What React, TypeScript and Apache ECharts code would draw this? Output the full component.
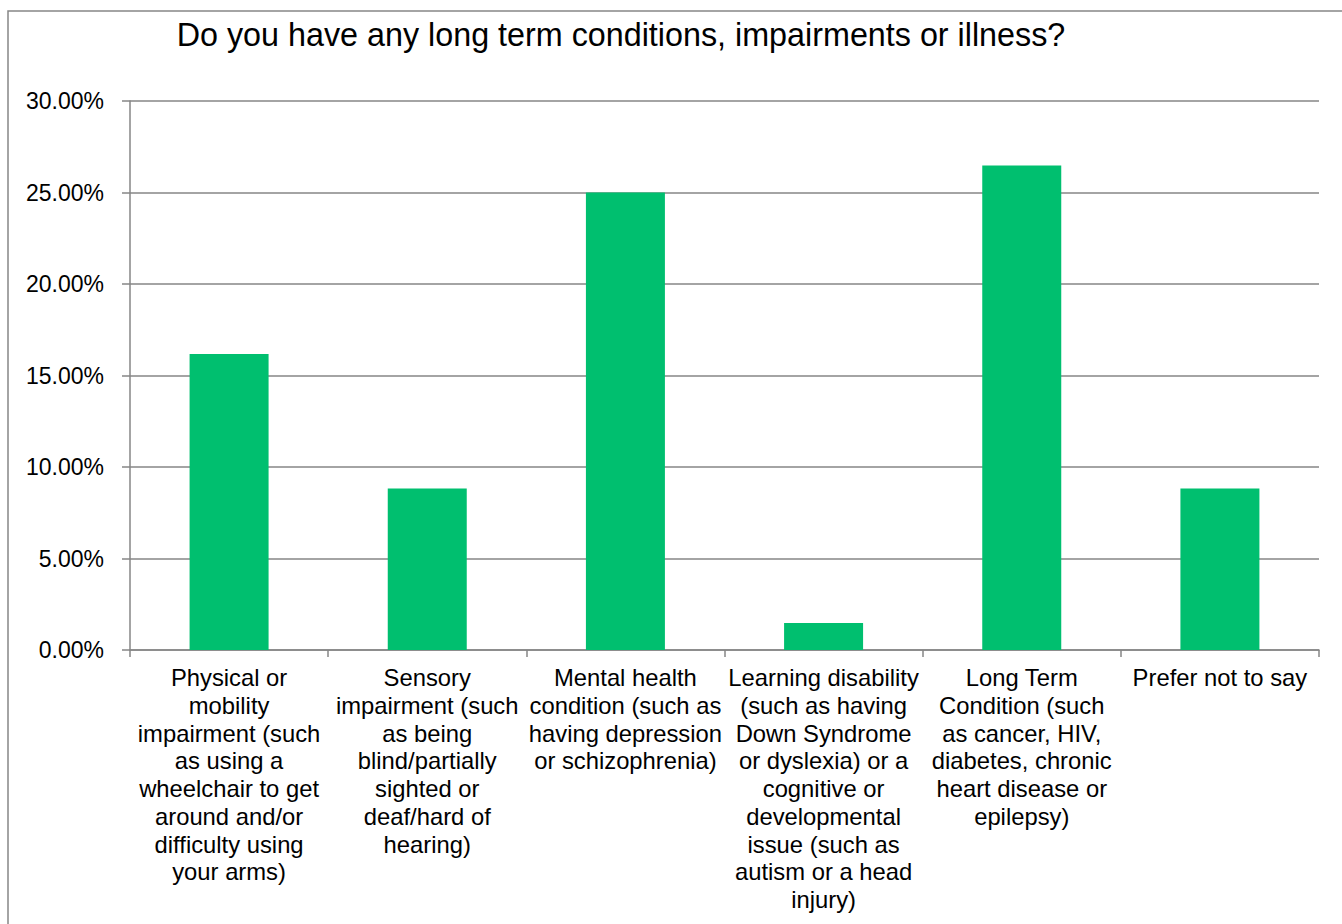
import React, { useEffect, useRef } from "react";
import * as echarts from "echarts";

const categories = [
  "Physical or\nmobility\nimpairment (such\nas using a\nwheelchair to get\naround and/or\ndifficulty using\nyour arms)",
  "Sensory\nimpairment (such\nas being\nblind/partially\nsighted or\ndeaf/hard of\nhearing)",
  "Mental health\ncondition (such as\nhaving depression\nor schizophrenia)",
  "Learning disability\n(such as having\nDown Syndrome\nor dyslexia) or a\ncognitive or\ndevelopmental\nissue (such as\nautism or a head\ninjury)",
  "Long Term\nCondition (such\nas cancer, HIV,\ndiabetes, chronic\nheart disease or\nepilepsy)",
  "Prefer not to say",
];
const values = [0.1618, 0.0882, 0.25, 0.0147, 0.2647, 0.0882];
const titleText = "Do you have any long term conditions, impairments or illness?";

export default function App() {
  const ref = useRef<HTMLDivElement>(null);
  useEffect(() => {
    if (!ref.current) return;
    const chart = echarts.init(ref.current, undefined, { renderer: "svg" });
    const font = "Arial, 'Liberation Sans', sans-serif";
    const gray = "#868686";
    chart.setOption({
      animation: false,
      backgroundColor: "#ffffff",
      graphic: [
        {
          type: "rect",
          shape: { x: 8, y: 11, width: 1400, height: 1000 },
          style: { fill: "none", stroke: gray, lineWidth: 1.5 },
          silent: true,
        },
        {
          type: "text",
          x: 621,
          y: 35,
          style: {
            text: titleText,
            fontFamily: font,
            fontSize: 32.3,
            fill: "#000",
            textAlign: "center",
            textVerticalAlign: "middle",
          },
        },
      ],
      grid: { left: 130, right: 23, top: 101, bottom: 274 },
      xAxis: {
        type: "category",
        data: categories,
        axisLine: { lineStyle: { color: gray, width: 1.5 } },
        axisTick: { show: true, length: 7, lineStyle: { color: gray, width: 1.5 } },
        axisLabel: {
          interval: 0,
          margin: 14,
          color: "#000",
          fontFamily: font,
          fontSize: 23.8,
          lineHeight: 27.7,
          align: "center",
        },
      },
      yAxis: {
        type: "value",
        min: 0,
        max: 0.3,
        interval: 0.05,
        axisLine: { show: true, lineStyle: { color: gray, width: 1.5 } },
        axisTick: { show: true, length: 8, lineStyle: { color: gray, width: 1.5 } },
        splitLine: { show: true, lineStyle: { color: gray, width: 1.5 } },
        axisLabel: {
          margin: 26,
          color: "#000",
          fontFamily: font,
          fontSize: 23,
          formatter: (v: number) => (v * 100).toFixed(2) + "%",
        },
      },
      series: [
        {
          type: "bar",
          data: values,
          barWidth: 79,
          itemStyle: { color: "#00BF6F" },
        },
      ],
    });
    return () => chart.dispose();
  }, []);
  return (
    <div
      ref={ref}
      style={{ position: "fixed", left: 0, top: 0, width: 1342, height: 924, background: "#fff" }}
    />
  );
}
